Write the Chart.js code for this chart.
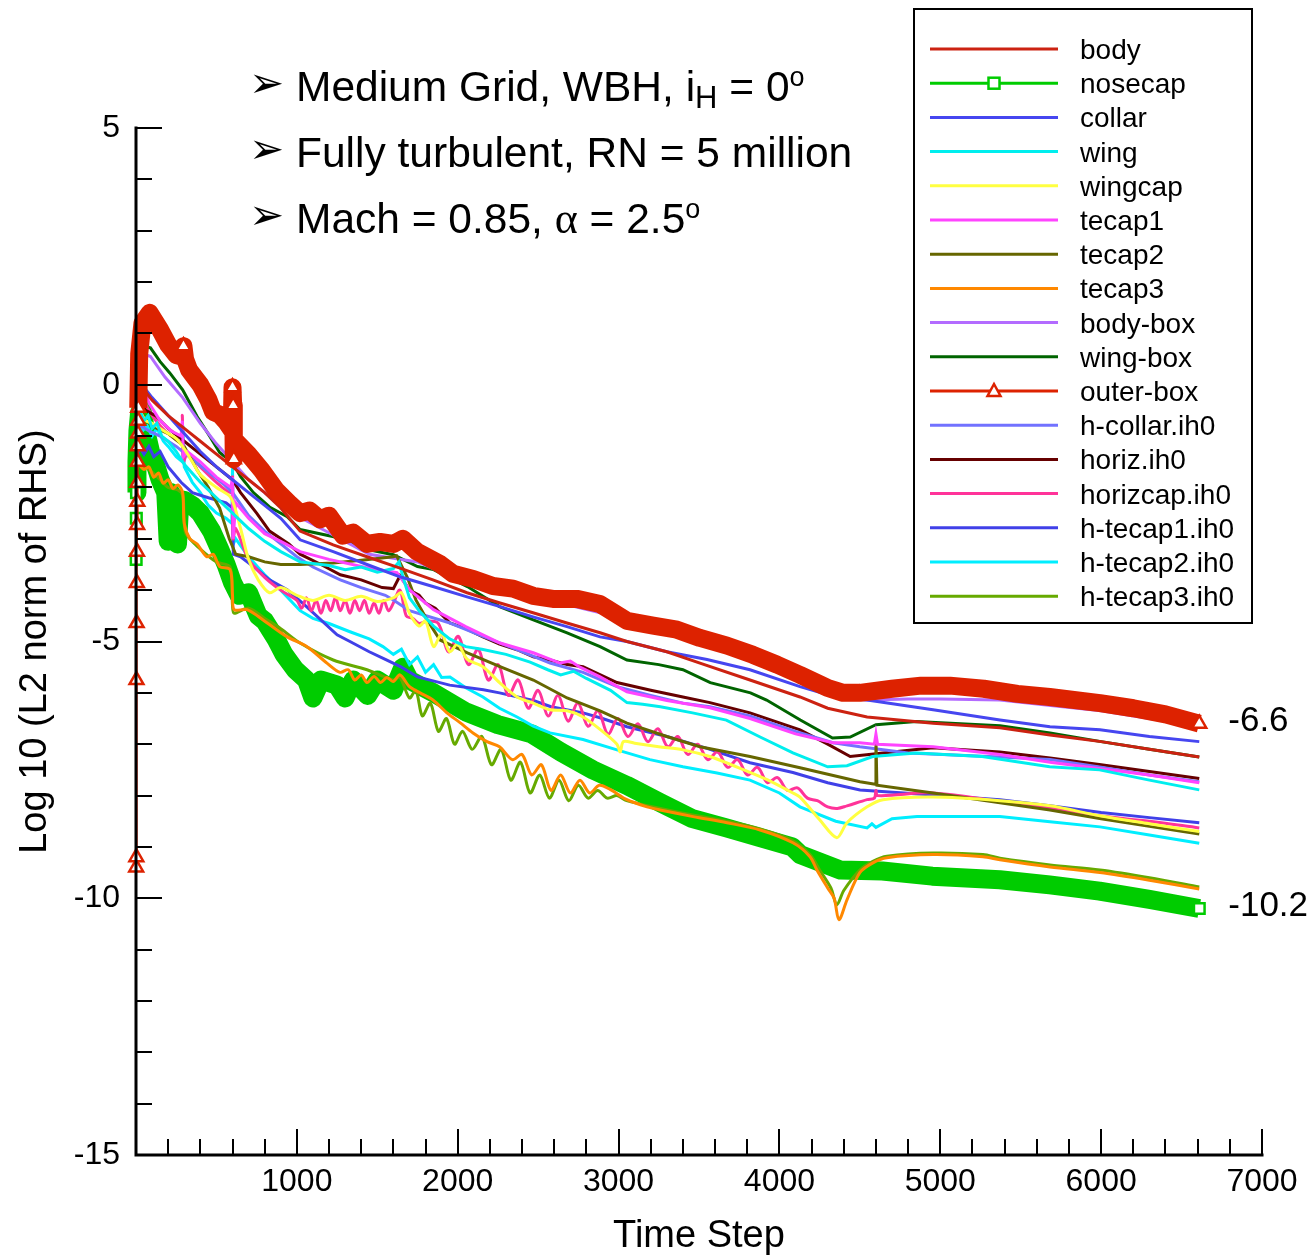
<!DOCTYPE html>
<html>
<head>
<meta charset="utf-8">
<title>Residual history</title>
<script src="https://cdn.jsdelivr.net/npm/chart.js@4/dist/chart.umd.min.js"></script>
<style>
  html, body { margin: 0; padding: 0; background: #fff; }
  canvas { display: block; }
</style>
</head>
<body>
<canvas id="residChart" width="1315" height="1256"></canvas>
<script>
// Residual history per grid zone: [time step, log10 L2 norm of RHS]
const body = [[3,-0.5],[20,-0.2],[50,-0.1],[100,-0.3],[200,-0.6],[300,-0.85],[400,-1.1],[500,-1.35],[600,-1.6],[700,-1.85],[800,-2.1],[900,-2.4],[1020,-2.85],[1226,-3.12],[1436,-3.35],[1641,-3.57],[1846,-3.8],[2058,-4.05],[2263,-4.25],[2468,-4.44],[2679,-4.64],[2885,-4.83],[3052,-5.0],[3300,-5.2],[3506,-5.42],[3817,-5.75],[4128,-6.08],[4300,-6.3],[4545,-6.47],[4955,-6.59],[5371,-6.68],[5682,-6.82],[6000,-6.95],[6300,-7.1],[6610,-7.25]];

const nosecap = [[1,-3.4],[2,-2.6],[3,-2.1],[6,-1.5],[12,-0.9],[22,-0.55],[35,-0.45],[60,-0.9],[90,-1.3],[120,-1.55],[150,-1.85],[185,-2.1],[200,-3.05],[215,-2.1],[245,-2.3],[258,-3.1],[272,-2.3],[300,-2.25],[350,-2.35],[400,-2.5],[470,-2.85],[520,-3.2],[560,-3.5],[600,-3.85],[640,-4.1],[700,-4.05],[760,-4.5],[800,-4.6],[870,-4.95],[920,-5.25],[990,-5.55],[1060,-5.75],[1100,-6.1],[1150,-5.75],[1250,-5.85],[1300,-6.1],[1350,-5.75],[1440,-6.05],[1500,-5.75],[1600,-5.95],[1660,-5.5],[1700,-5.75],[1850,-6.0],[2050,-6.37],[2250,-6.62],[2460,-6.8],[2640,-7.15],[2840,-7.5],[3050,-7.8],[3260,-8.14],[3460,-8.45],[3670,-8.63],[3880,-8.82],[4080,-9.0],[4130,-9.15],[4380,-9.45],[4640,-9.47],[4950,-9.57],[5370,-9.64],[5680,-9.74],[5990,-9.86],[6300,-10.02],[6610,-10.2]];

const collar = [[3,-0.3],[20,-0.1],[50,-0.05],[100,-0.25],[200,-0.6],[300,-0.95],[400,-1.3],[500,-1.6],[600,-1.85],[700,-2.1],[800,-2.35],[900,-2.6],[1020,-3.02],[1226,-3.25],[1436,-3.5],[1641,-3.74],[1846,-3.93],[2058,-4.13],[2263,-4.32],[2468,-4.52],[2679,-4.71],[2885,-4.91],[3052,-5.0],[3300,-5.2],[3550,-5.35],[3817,-5.55],[4128,-5.88],[4350,-6.08],[4545,-6.14],[4955,-6.33],[5371,-6.53],[5682,-6.66],[5993,-6.72],[6300,-6.85],[6610,-6.95]];

const wing = [[3,-0.4],[15,-0.75],[30,-0.55],[50,-0.7],[75,-0.6],[100,-0.85],[130,-0.75],[160,-1.0],[200,-1.1],[250,-1.3],[300,-1.55],[400,-1.9],[500,-2.2],[600,-2.5],[700,-2.8],[800,-3.05],[900,-3.25],[1020,-3.45],[1200,-3.52],[1300,-3.6],[1400,-3.55],[1500,-3.65],[1600,-3.58],[1635,-3.45],[1660,-3.75],[1700,-4.15],[1760,-4.4],[1850,-4.7],[1950,-4.95],[2050,-5.1],[2150,-5.15],[2300,-5.25],[2450,-5.4],[2560,-5.55],[2640,-5.65],[2720,-5.58],[2800,-5.72],[2950,-5.95],[3052,-6.19],[3150,-6.22],[3260,-6.27],[3460,-6.39],[3670,-6.53],[3880,-6.86],[4084,-7.17],[4300,-7.44],[4420,-7.42],[4580,-7.24],[4850,-7.17],[5260,-7.24],[5680,-7.44],[5990,-7.5],[6300,-7.7],[6610,-7.89]];

const wingcap = [[3,-0.5],[30,-0.55],[60,-0.7],[100,-0.75],[150,-0.85],[200,-0.95],[250,-1.05],[300,-1.25],[350,-1.5],[400,-1.75],[500,-2.0],[590,-2.2],[650,-2.8],[700,-3.4],[760,-3.8],[830,-4.05],[900,-3.95],[1000,-4.1],[1100,-4.2],[1200,-4.1],[1300,-4.2],[1400,-4.12],[1500,-4.22],[1600,-4.15],[1650,-4.05],[1700,-4.45],[1760,-4.7],[1800,-4.6],[1850,-5.1],[1900,-4.85],[1950,-5.2],[2000,-5.05],[2060,-5.35],[2157,-5.49],[2260,-5.8],[2369,-6.08],[2470,-6.2],[2574,-6.33],[2680,-6.35],[2779,-6.47],[2900,-6.75],[2990,-7.0],[3010,-7.15],[3030,-6.95],[3100,-6.98],[3250,-7.05],[3400,-7.11],[3568,-7.24],[3700,-7.4],[3923,-7.69],[4084,-7.95],[4128,-8.03],[4250,-8.47],[4357,-8.82],[4420,-8.53],[4545,-8.22],[4644,-8.08],[4955,-8.03],[5371,-8.1],[5682,-8.2],[6000,-8.4],[6300,-8.55],[6610,-8.7]];

const tecap1 = [[3,-0.3],[25,0.3],[40,0.0],[80,-0.35],[150,-0.7],[220,-0.9],[280,-1.0],[288,-0.7],[295,-1.4],[320,-1.3],[400,-1.5],[500,-1.8],[590,-2.0],[600,-1.8],[604,-3.0],[620,-2.3],[700,-2.6],[800,-2.9],[900,-3.05],[1020,-3.25],[1200,-3.4],[1430,-3.56],[1622,-3.66],[1703,-4.0],[1850,-4.38],[2050,-4.71],[2263,-5.03],[2470,-5.22],[2636,-5.42],[2700,-5.38],[2760,-5.5],[2885,-5.69],[3052,-5.98],[3300,-6.15],[3568,-6.29],[3817,-6.5],[4100,-6.8],[4333,-6.97],[4500,-6.97],[4590,-7.0],[4600,-6.8],[4610,-7.0],[4955,-7.05],[5371,-7.2],[5682,-7.35],[6000,-7.48],[6300,-7.6],[6610,-7.75]];

const tecap2 = [[3,-0.5],[20,-0.4],[60,-0.7],[130,-0.85],[200,-0.95],[300,-1.2],[380,-1.66],[450,-2.0],[520,-2.4],[580,-3.0],[620,-3.3],[700,-3.35],[800,-3.45],[900,-3.5],[1020,-3.5],[1226,-3.47],[1430,-3.41],[1598,-3.35],[1620,-3.33],[1685,-3.74],[1740,-4.19],[1810,-4.58],[1890,-4.97],[2060,-5.22],[2263,-5.49],[2470,-5.75],[2680,-6.1],[2885,-6.35],[3052,-6.59],[3300,-6.85],[3506,-7.05],[3817,-7.24],[4128,-7.46],[4501,-7.73],[4595,-7.78],[4600,-6.88],[4606,-7.8],[4955,-7.95],[5371,-8.14],[5682,-8.28],[6000,-8.45],[6300,-8.6],[6610,-8.75]];

const tecap3 = [[2,-1.4],[20,-1.55],[50,-1.65],[80,-1.6],[110,-1.8],[140,-1.72],[170,-1.92],[200,-1.85],[230,-2.02],[260,-1.95],[290,-2.1],[300,-2.7],[335,-3.0],[380,-3.1],[440,-3.35],[480,-3.3],[520,-3.54],[585,-3.6],[600,-4.1],[610,-4.38],[690,-4.38],[790,-4.58],[940,-4.91],[1063,-5.1],[1187,-5.42],[1268,-5.6],[1320,-5.55],[1360,-5.75],[1400,-5.65],[1436,-5.8],[1480,-5.68],[1520,-5.8],[1560,-5.7],[1598,-5.78],[1641,-5.65],[1700,-5.88],[1766,-6.0],[1846,-6.14],[1933,-6.39],[2014,-6.58],[2095,-6.78],[2182,-6.95],[2260,-7.05],[2340,-7.3],[2400,-7.2],[2460,-7.6],[2520,-7.4],[2580,-7.9],[2640,-7.6],[2700,-7.95],[2760,-7.7],[2820,-7.95],[2880,-7.8],[2947,-7.88],[3052,-8.08],[3177,-8.22],[3257,-8.28],[3463,-8.41],[3674,-8.53],[3880,-8.67],[4084,-8.92],[4190,-9.19],[4233,-9.45],[4300,-9.8],[4340,-10.0],[4370,-10.42],[4420,-10.03],[4500,-9.5],[4581,-9.31],[4668,-9.21],[4955,-9.15],[5265,-9.19],[5371,-9.25],[5682,-9.39],[5993,-9.5],[6300,-9.65],[6610,-9.82]];

const bodyBox = [[3,-0.3],[20,0.3],[50,0.6],[90,0.55],[180,0.15],[290,-0.25],[400,-0.75],[500,-1.15],[600,-1.5],[700,-1.85],[800,-2.1],[900,-2.35],[1000,-2.55],[1150,-2.8],[1300,-3.05],[1450,-3.3],[1600,-3.38],[1750,-3.45],[1900,-3.65],[2100,-3.85],[2300,-4.0],[2500,-4.15],[2700,-4.3],[2900,-4.45],[3100,-4.7],[3300,-4.85],[3500,-5.0],[3700,-5.2],[3900,-5.45],[4100,-5.7],[4300,-5.98],[4400,-6.1],[4550,-6.14],[4800,-6.12],[5000,-6.12],[5370,-6.14],[5700,-6.25],[6000,-6.35],[6300,-6.5],[6610,-6.65]];

const wingBox = [[3,0.2],[20,0.5],[50,0.75],[90,0.72],[150,0.45],[210,0.23],[290,-0.1],[380,-0.62],[460,-1.01],[520,-1.32],[600,-1.52],[650,-1.79],[730,-2.1],[830,-2.38],[940,-2.57],[1020,-2.82],[1230,-2.96],[1440,-3.21],[1600,-3.31],[1750,-3.54],[1850,-3.6],[2060,-3.93],[2260,-4.32],[2470,-4.58],[2680,-4.83],[2885,-5.1],[3052,-5.36],[3250,-5.45],[3400,-5.55],[3570,-5.8],[3820,-6.0],[3920,-6.14],[4130,-6.53],[4330,-6.88],[4440,-6.86],[4600,-6.62],[4850,-6.56],[5371,-6.64],[5682,-6.78],[6000,-6.95],[6300,-7.1],[6610,-7.25]];

const outerBox = [[1,-9.4],[2,-9.2],[3,-5.75],[4,-4.64],[5,-3.86],[6,-3.25],[7,-2.73],[8,-2.28],[9,-1.91],[10,-1.5],[11,-1.2],[12,-0.95],[13,-0.7],[14,-0.45],[20,0.6],[40,1.2],[85,1.4],[150,1.07],[200,0.78],[250,0.58],[285,0.55],[295,0.75],[305,0.5],[330,0.29],[400,0.0],[450,-0.29],[480,-0.53],[520,-0.58],[560,-0.72],[595,-0.88],[600,-0.05],[604,-0.4],[608,-1.45],[620,-1.1],[700,-1.36],[780,-1.66],[870,-2.05],[950,-2.3],[1020,-2.5],[1080,-2.45],[1144,-2.62],[1200,-2.55],[1287,-2.94],[1350,-2.88],[1436,-3.1],[1517,-3.06],[1600,-3.1],[1660,-3.0],[1747,-3.25],[1890,-3.49],[1971,-3.68],[2095,-3.78],[2219,-3.92],[2344,-3.97],[2468,-4.11],[2592,-4.17],[2741,-4.17],[2885,-4.27],[3053,-4.6],[3215,-4.69],[3363,-4.77],[3506,-4.93],[3674,-5.08],[3835,-5.26],[3985,-5.45],[4128,-5.65],[4296,-5.9],[4396,-6.0],[4501,-6.0],[4700,-5.92],[4880,-5.86],[5060,-5.86],[5270,-5.92],[5480,-6.02],[5680,-6.08],[5993,-6.2],[6200,-6.3],[6400,-6.42],[6610,-6.6]];

const hCollar = [[3,-0.7],[30,-0.8],[80,-0.9],[150,-1.0],[250,-1.2],[350,-1.45],[450,-1.7],[550,-1.95],[600,-2.1],[700,-2.55],[800,-2.85],[900,-3.1],[1000,-3.35],[1100,-3.55],[1270,-3.8],[1400,-3.95],[1550,-4.1],[1600,-4.19],[1700,-4.4],[1952,-4.64],[2157,-4.9],[2360,-5.15],[2574,-5.42],[2779,-5.6],[2990,-5.88],[3200,-6.05],[3400,-6.2],[3568,-6.27],[3817,-6.45],[4100,-6.75],[4333,-6.97],[4500,-7.05],[4800,-7.17],[5371,-7.25],[5682,-7.3],[6000,-7.45],[6300,-7.6],[6610,-7.73]];

const horiz = [[3,-0.2],[20,-0.3],[60,-0.5],[120,-0.6],[200,-0.85],[300,-1.1],[400,-1.35],[500,-1.6],[600,-1.85],[650,-2.1],[750,-2.5],[830,-2.85],[950,-3.1],[1020,-3.3],[1150,-3.5],[1270,-3.7],[1400,-3.8],[1530,-3.95],[1600,-3.97],[1641,-3.72],[1700,-4.0],[1760,-4.1],[1800,-4.25],[1860,-4.35],[1952,-4.64],[2050,-4.75],[2157,-4.91],[2260,-5.05],[2369,-5.16],[2470,-5.3],[2574,-5.36],[2680,-5.45],[2779,-5.49],[2990,-5.8],[3200,-5.95],[3400,-6.08],[3568,-6.19],[3817,-6.39],[4128,-6.72],[4300,-7.0],[4440,-7.24],[4644,-7.17],[4955,-7.07],[5371,-7.15],[5682,-7.27],[6000,-7.4],[6300,-7.53],[6610,-7.67]];

const horizcap = [[3,-0.4],[25,0.2],[40,-0.2],[80,-0.5],[150,-0.8],[220,-1.0],[280,-1.1],[288,-0.6],[295,-1.5],[320,-1.35],[400,-1.6],[500,-1.9],[590,-2.1],[600,-1.8],[604,-3.0],[620,-2.8],[700,-3.4],[800,-3.75],[900,-4.0],[1000,-4.2],
  [1030,-4.35],[1060,-4.15],[1090,-4.4],[1120,-4.2],[1150,-4.45],[1180,-4.2],[1210,-4.4],[1240,-4.15],[1270,-4.4],[1300,-4.2],[1330,-4.45],[1360,-4.2],[1390,-4.4],[1420,-4.2],[1450,-4.45],[1480,-4.25],[1510,-4.45],[1540,-4.2],[1570,-4.4],[1600,-4.25],[1641,-4.0],[1680,-4.5],[1720,-4.55],[1760,-4.65],[1810,-4.6],
  [1880,-4.65],[1942,-5.2],[2004,-4.9],[2066,-5.45],[2128,-5.15],[2190,-5.75],[2252,-5.45],[2314,-6.05],[2376,-5.75],[2438,-6.3],[2500,-5.95],[2562,-6.45],[2624,-6.05],[2686,-6.55],[2748,-6.2],[2810,-6.65],[2872,-6.35],[2934,-6.8],[2996,-6.5],[3058,-6.85],[3120,-6.6],[3182,-6.95],[3244,-6.7],[3306,-7.05],[3368,-6.85],[3430,-7.2],[3492,-7.0],[3554,-7.3],[3616,-7.15],[3678,-7.45],[3740,-7.3],[3802,-7.6],[3864,-7.45],[3926,-7.75],[3988,-7.65],[4050,-7.9],[4112,-7.85],[4174,-8.05],[4236,-8.1],[4300,-8.22],[4360,-8.25],
  [4420,-8.2],[4545,-8.08],[4590,-8.05],[4600,-7.9],[4610,-8.0],[4955,-7.95],[5371,-8.12],[5682,-8.25],[6000,-8.4],[6300,-8.5],[6610,-8.63]];

const hTecap1 = [[3,-1.5],[20,-1.2],[50,-1.35],[80,-1.2],[110,-1.4],[150,-1.3],[200,-1.6],[280,-1.9],[350,-2.1],[450,-2.2],[560,-2.3],[600,-2.4],[605,-3.3],[650,-3.35],[730,-3.54],[830,-3.8],[940,-3.99],[1060,-4.32],[1250,-4.87],[1330,-5.0],[1450,-5.2],[1550,-5.35],[1650,-5.5],[1750,-5.69],[1950,-5.85],[2160,-5.94],[2260,-6.0],[2470,-6.15],[2580,-6.27],[2780,-6.39],[2900,-6.5],[3052,-6.66],[3300,-6.85],[3550,-7.08],[3817,-7.36],[4084,-7.55],[4300,-7.75],[4501,-7.89],[5000,-8.0],[5371,-8.08],[5682,-8.2],[6000,-8.33],[6300,-8.43],[6610,-8.53]];

const hTecap2 = [[3,-0.9],[20,-0.6],[40,-0.9],[70,-0.8],[100,-1.0],[130,-0.85],[170,-1.1],[200,-1.2],[250,-1.4],[288,-1.5],[292,-0.8],[300,-1.6],[350,-1.9],[400,-2.1],[450,-2.35],[500,-2.5],[560,-2.6],[596,-2.7],[600,-1.55],[605,-3.1],[620,-3.0],[700,-3.35],[800,-3.7],[900,-4.0],[1020,-4.4],[1100,-4.55],[1200,-4.65],[1330,-4.81],[1450,-4.95],[1535,-5.1],[1600,-5.25],[1650,-5.15],[1700,-5.45],[1750,-5.3],[1800,-5.6],[1850,-5.45],[1900,-5.7],[1952,-5.69],[2050,-5.9],[2157,-6.08],[2260,-6.3],[2369,-6.47],[2470,-6.65],[2574,-6.78],[2779,-6.91],[2990,-7.11],[3195,-7.3],[3400,-7.44],[3612,-7.56],[3817,-7.7],[4000,-7.95],[4128,-8.22],[4350,-8.5],[4545,-8.63],[4575,-8.55],[4600,-8.62],[4700,-8.45],[4855,-8.41],[5370,-8.41],[5682,-8.51],[5993,-8.61],[6300,-8.77],[6610,-8.93]];

const hTecap3 = [[2,-1.7],[20,-1.5],[50,-1.58],[100,-1.7],[150,-1.85],[200,-2.0],[260,-2.05],[290,-2.15],[300,-2.6],[310,-2.9],[400,-3.2],[500,-3.45],[585,-3.55],[600,-4.3],[610,-4.45],[700,-4.35],[800,-4.55],[900,-4.75],[1020,-5.03],[1226,-5.36],[1436,-5.55],[1598,-5.75],[1641,-5.7],[1700,-6.1],[1740,-5.95],[1780,-6.45],[1830,-6.2],[1880,-6.75],[1930,-6.5],[1980,-7.0],[2030,-6.75],[2090,-7.1],[2150,-6.85],[2210,-7.4],[2270,-7.1],[2330,-7.7],[2390,-7.35],[2450,-7.95],[2510,-7.6],[2570,-8.05],[2630,-7.7],[2690,-8.1],[2750,-7.8],[2810,-8.05],[2870,-7.9],[2930,-8.05],[2990,-8.0],[3050,-8.1],[3260,-8.25],[3460,-8.38],[3670,-8.5],[3880,-8.65],[4084,-8.88],[4190,-9.15],[4250,-9.45],[4320,-9.8],[4357,-10.13],[4400,-9.85],[4500,-9.45],[4581,-9.28],[4668,-9.18],[4955,-9.12],[5265,-9.15],[5371,-9.22],[5682,-9.35],[5993,-9.45],[6300,-9.6],[6610,-9.78]];

// Steps where the zone symbols are shown
const outerBoxSymbolSteps = [1,2,3,4,5,6,7,8,9,10,11,12,13,14,295,600,604,608,6610];
const nosecapSymbolSteps = [1,2,3,6610];

const xTicks = [0, 1000, 2000, 3000, 4000, 5000, 6000, 7000];
const yTicks = [-15, -10, -5, 0, 5];

const notes = [
  ['Medium Grid, WBH, i', 'H', ' = 0', 'o'],
  ['Fully turbulent, RN = 5 million'],
  ['Mach = 0.85, ', 'α', ' = 2.5', 'o']
];

const FONT = '"Liberation Sans", Arial, Helvetica, sans-serif';

function toPoints(list) {
  return list.map(p => ({ x: p[0], y: p[1] }));
}

function zone(label, list, color, extra) {
  return Object.assign({
    label: label,
    data: toPoints(list),
    borderColor: color,
    backgroundColor: color,
    borderWidth: 3,
    pointRadius: 0,
    fill: false,
    tension: 0,
    order: 1
  }, extra || {});
}

const datasets = [
  zone('body', body, '#cc2211'),
  zone('nosecap', nosecap, '#00cc00', {
    order: 2,
    clip: false,
    borderJoinStyle: 'round',
    pointStyle: 'rect',
    pointRadius: ctx => nosecapSymbolSteps.includes(ctx.raw.x) ? 7.5 : 0,
    pointBorderColor: '#00cc00',
    pointBackgroundColor: '#ffffff',
    pointBorderWidth: 2.5,
    segment: { borderWidth: ctx => ctx.p0.parsed.x < 3 ? 2 : 19 }
  }),
  zone('collar', collar, '#4646f0'),
  zone('wing', wing, '#00eeee'),
  zone('wingcap', wingcap, '#ffff40', { tension: 0.3 }),
  zone('tecap1', tecap1, '#ff44ff'),
  zone('tecap2', tecap2, '#666600'),
  zone('tecap3', tecap3, '#ff8800', { tension: 0.3 }),
  zone('body-box', bodyBox, '#b36bff'),
  zone('wing-box', wingBox, '#006400'),
  zone('outer-box', outerBox, '#dd2200', {
    order: 0,
    clip: false,
    borderJoinStyle: 'round',
    pointStyle: 'triangle',
    pointRadius: ctx => outerBoxSymbolSteps.includes(ctx.raw.x) ? 8 : 0,
    pointBorderColor: '#dd2200',
    pointBackgroundColor: '#ffffff',
    pointBorderWidth: 2.5,
    segment: { borderWidth: ctx => ctx.p0.parsed.x < 14 ? 2 : 18 }
  }),
  zone('h-collar.ih0', hCollar, '#7272ff'),
  zone('horiz.ih0', horiz, '#660000'),
  zone('horizcap.ih0', horizcap, '#ff3399', { tension: 0.35 }),
  zone('h-tecap1.ih0', hTecap1, '#4040e8'),
  zone('h-tecap2.ih0', hTecap2, '#00eeff'),
  zone('h-tecap3.ih0', hTecap3, '#66aa00', { tension: 0.3 })
];

// Left and bottom axis lines with inward major/minor ticks
const axisFrame = {
  id: 'axisFrame',
  afterDatasetsDraw(chart) {
    const { ctx, chartArea: a, scales: { x, y } } = chart;
    ctx.save();
    ctx.strokeStyle = '#000';
    ctx.lineWidth = 3;
    ctx.lineCap = 'square';
    ctx.beginPath();
    ctx.moveTo(a.left, a.top);
    ctx.lineTo(a.left, a.bottom);
    ctx.lineTo(a.right, a.bottom);
    ctx.stroke();

    ctx.lineWidth = 2;
    ctx.lineCap = 'butt';
    ctx.beginPath();
    for (let v = y.min; v <= y.max; v += 1) {
      const py = Math.round(y.getPixelForValue(v));
      const len = v % 5 === 0 ? 26 : 16;
      ctx.moveTo(a.left, py);
      ctx.lineTo(a.left + len, py);
    }
    for (let v = x.min + 200; v <= x.max; v += 200) {
      const px = Math.round(x.getPixelForValue(v));
      const len = v % 1000 === 0 ? 26 : 16;
      ctx.moveTo(px, a.bottom);
      ctx.lineTo(px, a.bottom - len);
    }
    ctx.stroke();
    ctx.restore();
  }
};

// Run conditions in the upper left, final residual values on the right
const annotations = {
  id: 'annotations',
  afterDraw(chart) {
    const { ctx, scales: { x, y } } = chart;
    ctx.save();
    ctx.fillStyle = '#000';
    const baselines = [101, 167, 233];
    notes.forEach((parts, i) => {
      const base = baselines[i];
      ctx.textBaseline = 'middle';
      ctx.font = '42px "DejaVu Sans", sans-serif';
      ctx.fillText('➢', 249, base - 15);
      ctx.textBaseline = 'alphabetic';
      let cx = 296;
      parts.forEach((txt, k) => {
        let size = 42.5, dy = 0, family = FONT;
        if (i === 0 && k === 1) { size = 31; dy = 7; }
        if (k === 3) { size = 27; dy = -15; }
        if (i === 2 && k === 1) { family = '"Liberation Serif", "Times New Roman", serif'; size = 44; }
        ctx.font = size + 'px ' + family;
        ctx.fillText(txt, cx, base + dy);
        cx += ctx.measureText(txt).width;
      });
    });

    ctx.font = '35px ' + FONT;
    ctx.textBaseline = 'middle';
    [outerBox, nosecap].forEach(list => {
      const last = list[list.length - 1];
      const px = x.getPixelForValue(last[0]) + 29;
      const py = y.getPixelForValue(last[1]);
      ctx.fillText(last[1].toFixed(1), px, py - 2);
    });
    ctx.restore();
  }
};

// Boxed legend in the upper right
const zoneLegend = {
  id: 'zoneLegend',
  afterDraw(chart) {
    const ctx = chart.ctx;
    const left = 914, top = 9, w = 338, h = 614;
    ctx.save();
    ctx.fillStyle = '#fff';
    ctx.fillRect(left, top, w, h);
    ctx.strokeStyle = '#000';
    ctx.lineWidth = 2;
    ctx.strokeRect(left, top, w, h);
    ctx.font = '28px ' + FONT;
    ctx.textBaseline = 'alphabetic';
    chart.data.datasets.forEach((ds, i) => {
      const yy = top + 40 + i * 34.2;
      ctx.strokeStyle = ds.borderColor;
      ctx.lineWidth = 3;
      ctx.beginPath();
      ctx.moveTo(930, yy);
      ctx.lineTo(1058, yy);
      ctx.stroke();
      if (ds.pointStyle === 'rect') {
        ctx.fillStyle = '#fff';
        ctx.fillRect(988.5, yy - 5.5, 11, 11);
        ctx.lineWidth = 2.5;
        ctx.strokeRect(988.5, yy - 5.5, 11, 11);
      } else if (ds.pointStyle === 'triangle') {
        ctx.fillStyle = '#fff';
        ctx.lineWidth = 2.5;
        ctx.beginPath();
        ctx.moveTo(994, yy - 7);
        ctx.lineTo(1000.5, yy + 5);
        ctx.lineTo(987.5, yy + 5);
        ctx.closePath();
        ctx.fill();
        ctx.stroke();
      }
      ctx.fillStyle = '#000';
      ctx.fillText(ds.label, 1080, yy + 10);
    });
    ctx.restore();
  }
};

new Chart(document.getElementById('residChart').getContext('2d'), {
  type: 'line',
  data: { datasets: datasets },
  options: {
    responsive: false,
    animation: false,
    events: [],
    layout: { padding: { top: 128, right: 53, bottom: 0, left: 0 } },
    plugins: {
      legend: { display: false },
      tooltip: { enabled: false }
    },
    scales: {
      x: {
        type: 'linear',
        min: xTicks[0],
        max: xTicks[xTicks.length - 1],
        afterBuildTicks: scale => { scale.ticks = xTicks.map(v => ({ value: v })); },
        afterFit: scale => { scale.height = 101; },
        grid: { display: false },
        border: { display: false },
        ticks: {
          color: '#000',
          font: { family: FONT, size: 32 },
          padding: 0,
          maxRotation: 0,
          callback: v => v === 0 ? '' : String(v)
        },
        title: {
          display: true,
          text: 'Time Step',
          color: '#000',
          font: { family: FONT, size: 38, lineHeight: 1 },
          padding: { top: 0, bottom: 0 }
        }
      },
      y: {
        type: 'linear',
        min: yTicks[0],
        max: yTicks[yTicks.length - 1],
        afterBuildTicks: scale => { scale.ticks = yTicks.map(v => ({ value: v })); },
        afterFit: scale => { scale.width = 136; },
        grid: { display: false },
        border: { display: false },
        ticks: {
          color: '#000',
          font: { family: FONT, size: 32 },
          padding: 8,
          callback: v => String(v)
        },
        title: {
          display: true,
          text: 'Log 10 (L2 norm of RHS)',
          color: '#000',
          font: { family: FONT, size: 38, lineHeight: 1 },
          padding: { top: 17, bottom: 0 }
        }
      }
    }
  },
  plugins: [axisFrame, annotations, zoneLegend]
});
</script>
</body>
</html>
